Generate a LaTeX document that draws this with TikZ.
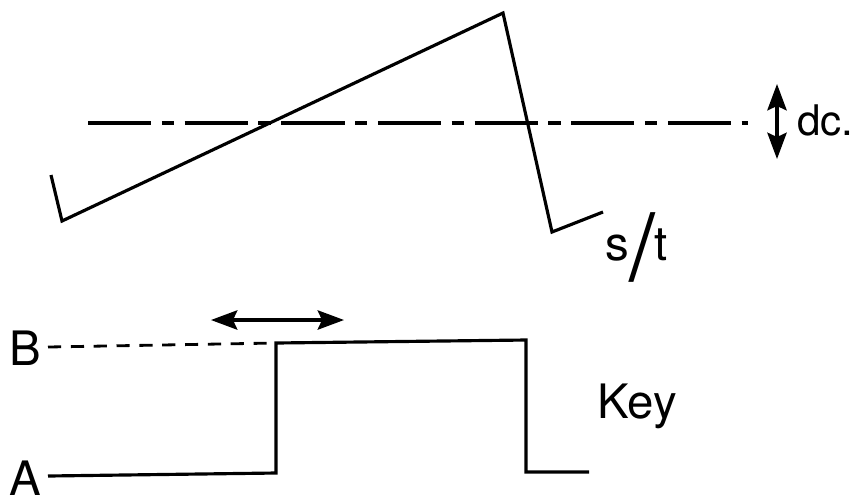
\documentclass[tikz,border=0pt]{standalone}
\usepackage{fontspec}
\setmainfont{TeX Gyre Heros}
\usetikzlibrary{arrows.meta}

\begin{document}
\begin{tikzpicture}[
    x=0.02cm, y=-0.02cm,
    every node/.style={font=\fontsize{27}{30}\selectfont, inner sep=0pt},
    wave/.style={line width=1.8pt, line join=miter},
    dcline/.style={line width=1.8pt, dash pattern=on 36pt off 6pt on 7pt off 6pt},
    highdash/.style={line width=1.6pt, dash pattern=on 7.5pt off 5.5pt},
    move/.style={{Stealth[length=15pt,width=11pt,inset=2.5pt]}-{Stealth[length=15pt,width=11pt,inset=2.5pt]}, line width=1.8pt}
]
\useasboundingbox (0,0) rectangle (858,495);
% sweep
\draw[wave] (51,175) -- (62,221) -- (503,13) -- (552,232) -- (603,212);
\node[anchor=base west] (st) at (605,260) {s\raisebox{-11.4pt}{\fontsize{53}{53}\selectfont/}t};
% dc level
\coordinate (dcstart) at (88,123);
\coordinate (dcend) at (748,123);
\coordinate (up) at (777,84);
\coordinate (down) at (777,159);
\node[anchor=base west, font=\fontsize{24}{28}\selectfont] (dc) at (797,135) {dc.};
\draw[dcline] (dcstart) -- (dcend);
\draw[move] (up) -- (down);
% key
\node[anchor=base west] (B) at (9,365) {B};
\node[anchor=base west] (A) at (9,495) {A};
\node[anchor=base west] (key) at (597,418) {Key};
\coordinate (a0) at (48,476);
\coordinate (a1) at (276,473);
\coordinate (b0) at (48,347);
\coordinate (b1) at (276,343);
\coordinate (b2) at (526,340);
\coordinate (a2) at (526,472);
\coordinate (a3) at (589,472);
\coordinate (left) at (211,320);
\coordinate (right) at (344,320);
\draw[highdash] (b0) -- (b1);
\draw[wave] (a0) -- (a1) -- (b1) -- (b2) -- (a2) -- (a3);
\draw[move] (left) -- (right);
\end{tikzpicture}
\end{document}
